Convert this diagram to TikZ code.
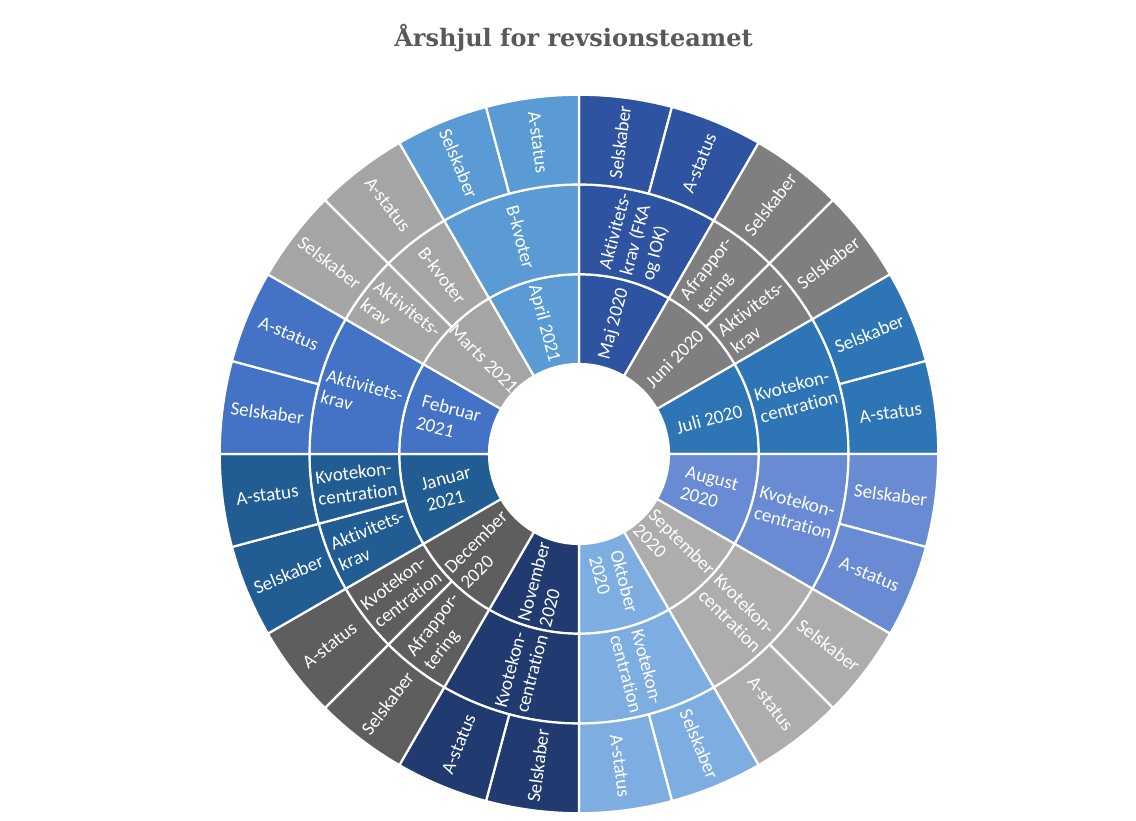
\documentclass[tikz,border=0pt]{standalone}
\usepackage{fontspec}
\setmainfont{Carlito}[Ligatures=NoCommon]
\newfontfamily\titlefont{DejaVu Serif}
\usetikzlibrary{positioning}

\definecolor{cmaj}{HTML}{2E54A1}
\definecolor{cjun}{HTML}{7F7F7F}
\definecolor{cjul}{HTML}{2E75B6}
\definecolor{caug}{HTML}{698BD3}
\definecolor{csep}{HTML}{ADADAD}
\definecolor{cokt}{HTML}{7EAEE1}
\definecolor{cnov}{HTML}{213A70}
\definecolor{cdec}{HTML}{5E5E5E}
\definecolor{cjan}{HTML}{215C92}
\definecolor{cfeb}{HTML}{4472C4}
\definecolor{cmar}{HTML}{A5A5A5}
\definecolor{capr}{HTML}{5B9BD5}
\definecolor{titlegray}{HTML}{595959}

\begin{document}
\begin{tikzpicture}[x=1pt,y=1pt]
  \tikzstyle{segment}=[draw=white,line width=2.2pt,line join=miter]
  \tikzstyle{seglabel}=[text=white,align=left,inner sep=0pt,
                     font=\fontsize{19}{22}\selectfont]

  \fill[white] (0,0) rectangle (1136,821);
  \useasboundingbox (0,0) rectangle (1136,821);

  \node[text=titlegray,anchor=base,font=\titlefont\bfseries\fontsize{24}{28}\selectfont]
    (title) at (573.5,774) {Årshjul for revsionsteamet};

  \begin{scope}[shift={(579,367)}]
  % ring/start/end/colour/name/text
  \foreach \r/\a/\b/\col/\nm/\txt in {
      1/90/60/cmaj/maj/{Maj 2020},
      1/60/30/cjun/jun/{Juni 2020},
      1/30/0/cjul/jul/{Juli 2020},
      1/0/-30/caug/aug/{August\\2020},
      1/-30/-60/csep/sep/{September\\2020},
      1/-60/-90/cokt/okt/{Oktober\\2020},
      1/-90/-120/cnov/nov/{November\\2020},
      1/-120/-150/cdec/dec/{December\\2020},
      1/-150/-180/cjan/jan/{Januar\\2021},
      1/180/150/cfeb/feb/{Februar\\2021},
      1/150/120/cmar/mar/{Marts 2021},
      1/120/90/capr/apr/{April 2021},
      % middle ring
      2/90/60/cmaj/majkrav/{Aktivitets-\\krav (FKA\\og IOK)},
      2/60/45/cjun/junafr/{Afrappor-\\tering},
      2/45/30/cjun/junkrav/{Aktivitets-\\krav},
      2/30/0/cjul/julkvo/{Kvotekon-\\centration},
      2/0/-30/caug/augkvo/{Kvotekon-\\centration},
      2/-30/-60/csep/sepkvo/{Kvotekon-\\centration},
      2/-60/-90/cokt/oktkvo/{Kvotekon-\\centration},
      2/-90/-120/cnov/novkvo/{Kvotekon-\\centration},
      2/-120/-135/cdec/decafr/{Afrappor-\\tering},
      2/-135/-150/cdec/deckvo/{Kvotekon-\\centration},
      2/-150/-165/cjan/jankrav/{Aktivitets-\\krav},
      2/-165/-180/cjan/jankvo/{Kvotekon-\\centration},
      2/180/150/cfeb/febkrav/{Aktivitets-\\krav},
      2/150/135/cmar/markrav/{Aktivitets-\\krav},
      2/135/120/cmar/marbkv/{B-kvoter},
      2/120/90/capr/aprbkv/{B-kvoter},
      % outer ring
      3/90/75/cmaj/majsel/{Selskaber},
      3/75/60/cmaj/majast/{A-status},
      3/60/45/cjun/junsela/{Selskaber},
      3/45/30/cjun/junselb/{Selskaber},
      3/30/15/cjul/julsel/{Selskaber},
      3/15/0/cjul/julast/{A-status},
      3/0/-15/caug/augsel/{Selskaber},
      3/-15/-30/caug/augast/{A-status},
      3/-30/-45/csep/sepsel/{Selskaber},
      3/-45/-60/csep/sepast/{A-status},
      3/-60/-75/cokt/oktsel/{Selskaber},
      3/-75/-90/cokt/oktast/{A-status},
      3/-90/-105/cnov/novsel/{Selskaber},
      3/-105/-120/cnov/novast/{A-status},
      3/-120/-135/cdec/decsel/{Selskaber},
      3/-135/-150/cdec/decast/{A-status},
      3/-150/-165/cjan/jansel/{Selskaber},
      3/-165/-180/cjan/janast/{A-status},
      3/180/165/cfeb/febsel/{Selskaber},
      3/165/150/cfeb/febast/{A-status},
      3/150/135/cmar/marsel/{Selskaber},
      3/135/120/cmar/marast/{A-status},
      3/120/105/capr/aprsel/{Selskaber},
      3/105/90/capr/aprast/{A-status}}
  {
    \pgfmathsetmacro\rin{90+89.75*(\r-1)}
    \pgfmathsetmacro\rout{\rin+89.75}
    \pgfmathsetmacro\rmid{(\rin+\rout)/2}
    \pgfmathsetmacro\mid{(\a+\b)/2}
    \pgfmathsetmacro\rot{cos(\mid)>=0 ? \mid : \mid+180}
    \path[segment,fill=\col] (\a:\rin pt) arc[start angle=\a,end angle=\b,radius=\rin pt]
      -- (\b:\rout pt) arc[start angle=\b,end angle=\a,radius=\rout pt] -- cycle;
    \node[seglabel,rotate=\rot] (\nm) at (\mid:\rmid pt) {\txt};
  }
  \end{scope}
\end{tikzpicture}
\end{document}
